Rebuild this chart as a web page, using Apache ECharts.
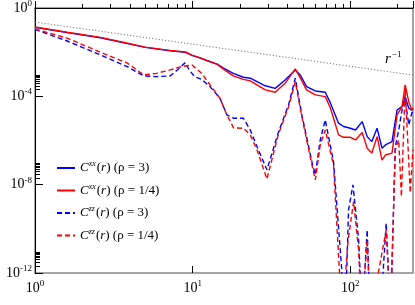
<!DOCTYPE html>
<html><head><meta charset="utf-8">
<script src="https://cdn.jsdelivr.net/npm/echarts@6/dist/echarts.min.js"></script>
<style>html,body{margin:0;padding:0;background:#fff}#c{width:415px;height:305px}</style>
</head><body><div id="c"></div>
<script>
// r values and C(r) values
const xxRho3 = [[1,0.133],[1.6,0.077],[2.6,0.045],[4,0.023],[5,0.0165],[7.2,0.0115],[9,0.0098],[9.9,0.0072],[11.2,0.0054],[12.3,0.0042],[14.3,0.0029],[15.7,0.0019],[18.1,0.0011],[21,0.00073],[23.2,0.00066],[28.9,0.0003],[33.4,0.00023],[38.6,0.00055],[44.8,0.00157],[48.1,0.00093],[52.8,0.000275],[60,0.000175],[69.4,0.000153],[74.9,4.9e-5],[84.3,6.1e-6],[90.6,4.3e-6],[100,3.6e-6],[108,3.0e-6],[119,7.2e-6],[128,1.5e-6],[137,8.9e-7],[148,3.6e-6],[159,4.5e-7],[167,6.3e-7],[184,8.9e-7],[198,2.4e-5],[213,3.4e-5],[223,9.7e-5],[235,2.9e-5],[246,2.4e-5],[250,2.6e-5]];
const xxRho14 = [[1,0.138],[1.6,0.08],[2.6,0.047],[4,0.024],[5,0.017],[7.2,0.012],[9,0.0102],[9.9,0.0074],[11.2,0.0055],[12.3,0.0042],[14.3,0.0028],[15.7,0.0017],[18.1,0.00084],[21,0.00059],[23.2,0.0005],[28.9,0.000195],[33.4,0.000153],[38.6,0.00039],[44.8,0.00174],[48.1,0.0007],[52.8,0.000195],[60,0.000116],[69.4,9.7e-5],[74.9,2.9e-5],[84.3,1.8e-6],[90.6,1.4e-6],[100,1.4e-6],[108,1.06e-6],[119,2.3e-6],[128,4.5e-7],[137,2.7e-7],[148,1.5e-6],[159,1.3e-7],[167,2.2e-7],[184,2.7e-7],[198,1.44e-5],[213,3.4e-5],[223,3.3e-4],[235,5.7e-5],[246,2.4e-5],[250,3e-5]];
const zzRho3 = [[1,0.106],[1.6,0.032],[2.6,0.0075],[3.85,0.0022],[4.9,0.00084],[5.9,0.00078],[7.2,0.00084],[8,0.00157],[9,0.0034],[9.5,0.00157],[10.3,0.00078],[11.4,0.00059],[12.9,0.000275],[14.9,8.2e-5],[16.5,1.44e-5],[18.2,1.02e-5],[21,1.02e-5],[23.2,3.0e-6],[25.6,5.3e-7],[29.6,4.7e-8],[34.9,2.2e-6],[40.6,4.1e-5],[44.8,6.6e-4],[49.3,1.44e-5],[57.1,1.1e-7],[60,2.8e-8],[64.5,1.06e-6],[69.4,8.6e-6],[78.3,1.1e-7],[86.4,1.1e-11],[93,1e-14],[97.5,7.2e-10],[104,9.8e-9],[113,3.2e-11],[119,1e-14],[128,9e-11],[134,1e-14],[155,1e-14],[169,1.8e-10],[180,1e-14],[193,5.3e-7],[203,3.0e-6],[213,2.4e-5],[223,6.9e-5],[235,5.1e-6],[246,1.8e-5],[250,2e-5]];
const zzRho14 = [[1,0.112],[1.6,0.043],[2.6,0.0099],[3.85,0.0032],[4.9,0.00093],[5.9,0.0011],[7.2,0.00157],[8.3,0.00214],[9.9,0.00264],[11.4,0.00111],[12.9,0.00033],[14.9,8.2e-5],[16.5,1.44e-5],[18.2,3.7e-6],[21,3.6e-6],[23.2,1.8e-6],[25.6,3.8e-7],[29.6,1.8e-8],[34.9,1.8e-6],[40.6,3.3e-5],[44.8,4.6e-4],[49.3,1.17e-5],[57.1,7.9e-8],[60,1.65e-8],[64.5,6.3e-7],[69.4,3.0e-6],[78.3,7.9e-8],[88.6,1e-14],[97,3.2e-11],[105,1.7e-9],[113,1.1e-11],[118,1e-14],[128,3.2e-11],[134,1e-14],[169,9e-11],[180,1e-14],[193,3.8e-7],[203,1.06e-6],[211,2.9e-9],[223,2.75e-4],[240,4.3e-9],[250,3.8e-7]];
const refLine = [[1,0.23],[250,9.2e-4]];
const xMajor = [1,10,100];
const xMinor = [2,3,4,5,6,7,8,9,20,30,40,50,60,70,80,90,200];
const yMajor = [1e-12,1e-8,1e-4,1];
const yMinor = [2e-12,3e-12,4e-12,5e-12,6e-12,7e-12,8e-12,9e-12,2e-8,3e-8,4e-8,5e-8,6e-8,7e-8,8e-8,9e-8,2e-4,3e-4,4e-4,5e-4,6e-4,7e-4,8e-4,9e-4];
const names = ['xx3','xx14','zz3','zz14'];
const legendText = {
  xx3: '{i|C}{s|xx}{n|(}{i|r}{n|) (ρ = 3)}',
  xx14: '{i|C}{s|xx}{n|(}{i|r}{n|) (ρ = 1/4)}',
  zz3: '{i|C}{s|zz}{n|(}{i|r}{n|) (ρ = 3)}',
  zz14: '{i|C}{s|zz}{n|(}{i|r}{n|) (ρ = 1/4)}'
};
const X_MIN = 1, X_MAX = 250, Y_MIN = 1e-12, Y_MAX = 1;

const serif = '"Liberation Serif", "Times New Roman", serif';
const tickRich = {
  b: {fontFamily: serif, fontSize: 14, color: '#000'},
  s: {fontFamily: serif, fontSize: 9, color: '#000', padding: [0,0,9,0]}
};
function pow10(v) {
  const e = Math.round(Math.log10(v));
  return '{b|10}{s|' + e + '}';
}
const legRich = {
  i: {fontFamily: serif, fontSize: 13, fontStyle: 'italic', color: '#000'},
  n: {fontFamily: serif, fontSize: 13, color: '#000'},
  s: {fontFamily: serif, fontSize: 8, fontStyle: 'italic', color: '#000', padding: [0,1,8,0]}
};
// hidden helper axes in log10 space that only carry tick marks
function tickAxis(min, max, values, len, pos) {
  return {
    type: 'value', min: Math.log10(min), max: Math.log10(max), position: pos, offset: 0,
    axisLine: {show: false}, axisLabel: {show: false}, splitLine: {show: false},
    axisTick: {show: true, inside: true, length: len, customValues: values.map(Math.log10),
               lineStyle: {color: '#000', width: 1}}
  };
}

const chart = echarts.init(document.getElementById('c'));
chart.setOption({
  animation: false,
  backgroundColor: '#fff',
  grid: {left: 35, right: 2, top: 8, bottom: 32, outerBoundsMode: 'none', containLabel: false,
         show: true, borderColor: '#888', borderWidth: 1.5},
  xAxis: [{
    type: 'log', logBase: 10, min: X_MIN, max: X_MAX,
    axisLine: {lineStyle: {color: '#000', width: 1}},
    axisTick: {show: true, inside: true, length: 7, lineStyle: {color: '#000', width: 1}},
    axisLabel: {customValues: xMajor, formatter: pow10, rich: tickRich, margin: 6},
    splitLine: {show: false},
    name: 'r', nameLocation: 'middle', nameGap: 25,
    nameTextStyle: {fontFamily: serif, fontStyle: 'italic', fontSize: 17, color: '#000'}
  }, tickAxis(X_MIN, X_MAX, xMinor, 4, 'bottom'), tickAxis(X_MIN, X_MAX, xMajor, 7, 'bottom')],
  yAxis: [{
    type: 'log', logBase: 10, min: Y_MIN, max: Y_MAX,
    axisLine: {show: true, lineStyle: {color: '#000', width: 1}},
    axisTick: {show: false},
    axisLabel: {customValues: yMajor, formatter: pow10, rich: tickRich, margin: 3},
    splitLine: {show: false},
    name: '{i|C}{n|(}{i|r}{n|)}', nameLocation: 'middle', nameGap: 23, nameRotate: 90,
    nameTextStyle: {rich: {
      i: {fontFamily: serif, fontStyle: 'italic', fontSize: 17, color: '#000'},
      n: {fontFamily: serif, fontSize: 17, color: '#000'}
    }}
  }, tickAxis(Y_MIN, Y_MAX, yMinor, 5, 'left'), tickAxis(Y_MIN, Y_MAX, yMajor, 8, 'left')],
  legend: {
    orient: 'vertical', left: 51, top: 155, itemWidth: 18, itemHeight: 10, itemGap: 8,
    data: names, formatter: n => legendText[n],
    itemStyle: {opacity: 0},
    textStyle: {rich: legRich}
  },
  graphic: [{
    type: 'text', left: 385, top: 50,
    style: {text: '{i|r}{s|−1}', rich: {
      i: {fontFamily: serif, fontStyle: 'italic', fontSize: 15, color: '#000'},
      s: {fontFamily: serif, fontSize: 9, color: '#000', padding: [0,0,10,1]}
    }}
  }],
  series: [
    {name: 'ref', type: 'line', data: refLine, symbol: 'none', silent: true,
     lineStyle: {color: '#777', width: 1, type: [1.2, 2]}},
    {name: 'xx3', type: 'line', data: xxRho3, symbol: 'none', lineStyle: {color: '#0000ff', width: 1.4}, itemStyle: {color: '#0000ff'}},
    {name: 'xx14', type: 'line', data: xxRho14, symbol: 'none', lineStyle: {color: '#ff0000', width: 1.4}, itemStyle: {color: '#ff0000'}},
    {name: 'zz3', type: 'line', data: zzRho3, symbol: 'none', lineStyle: {color: '#0000ff', width: 1.4, type: [5, 3]}, itemStyle: {color: '#0000ff'}},
    {name: 'zz14', type: 'line', data: zzRho14, symbol: 'none', lineStyle: {color: '#ff0000', width: 1.4, type: [5, 3]}, itemStyle: {color: '#ff0000'}}
  ]
});
</script>
</body></html>
